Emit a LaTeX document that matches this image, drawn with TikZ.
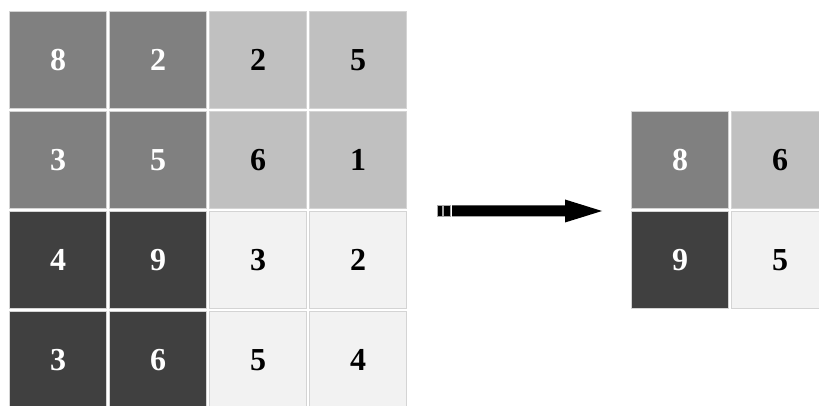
\documentclass[tikz,border=0pt]{standalone}
\usepackage{fontspec}
\setmainfont{Liberation Serif}
\definecolor{gA}{HTML}{808080}
\definecolor{gB}{HTML}{C0C0C0}
\definecolor{gC}{HTML}{404040}
\definecolor{gD}{HTML}{F2F2F2}
\definecolor{cellline}{HTML}{D4D4D4}
\definecolor{arrline}{HTML}{A8A8A8}
\tikzset{
  cell/.style={draw=cellline, line width=1pt, minimum size=97pt, inner sep=0pt,
    font=\fontsize{32}{36}\selectfont\bfseries},
  cA/.style={cell, fill=gA, text=white},
  cB/.style={cell, fill=gB, text=black},
  cC/.style={cell, fill=gC, text=white},
  cD/.style={cell, fill=gD, text=black},
  arrpart/.style={fill=black, draw=arrline, line width=0.6pt}
}
\begin{document}
\begin{tikzpicture}[x=1pt,y=-1pt]
\useasboundingbox (0,0) rectangle (819,406);
% input grid
\node[cA] (a11) at (58,60) {8};
\node[cA] (a12) at (158,60) {2};
\node[cB] (a13) at (258,60) {2};
\node[cB] (a14) at (358,60) {5};
\node[cA] (a21) at (58,160) {3};
\node[cA] (a22) at (158,160) {5};
\node[cB] (a23) at (258,160) {6};
\node[cB] (a24) at (358,160) {1};
\node[cC] (a31) at (58,260) {4};
\node[cC] (a32) at (158,260) {9};
\node[cD] (a33) at (258,260) {3};
\node[cD] (a34) at (358,260) {2};
\node[cC] (a41) at (58,360) {3};
\node[cC] (a42) at (158,360) {6};
\node[cD] (a43) at (258,360) {5};
\node[cD] (a44) at (358,360) {4};
% output grid
\node[cA] (b11) at (680,160) {8};
\node[cB] (b12) at (780,160) {6};
\node[cC] (b21) at (680,260) {9};
\node[cD] (b22) at (780,260) {5};
% arrow
\coordinate (tail) at (437,211);
\coordinate (tip) at (602,211);
\draw[arrpart] ([yshift=-5.5pt]tail) rectangle ([xshift=5pt,yshift=5.5pt]tail);
\draw[arrpart] ([xshift=6.5pt,yshift=-5.5pt]tail) rectangle ([xshift=13.5pt,yshift=5.5pt]tail);
\fill[black] ([xshift=15pt,yshift=-5.5pt]tail) -- ([xshift=-37pt,yshift=-5.5pt]tip)
  -- ([xshift=-37pt,yshift=-11.5pt]tip) -- (tip)
  -- ([xshift=-37pt,yshift=11.5pt]tip) -- ([xshift=-37pt,yshift=5.5pt]tip)
  -- ([xshift=15pt,yshift=5.5pt]tail) -- cycle;
\end{tikzpicture}
\end{document}
